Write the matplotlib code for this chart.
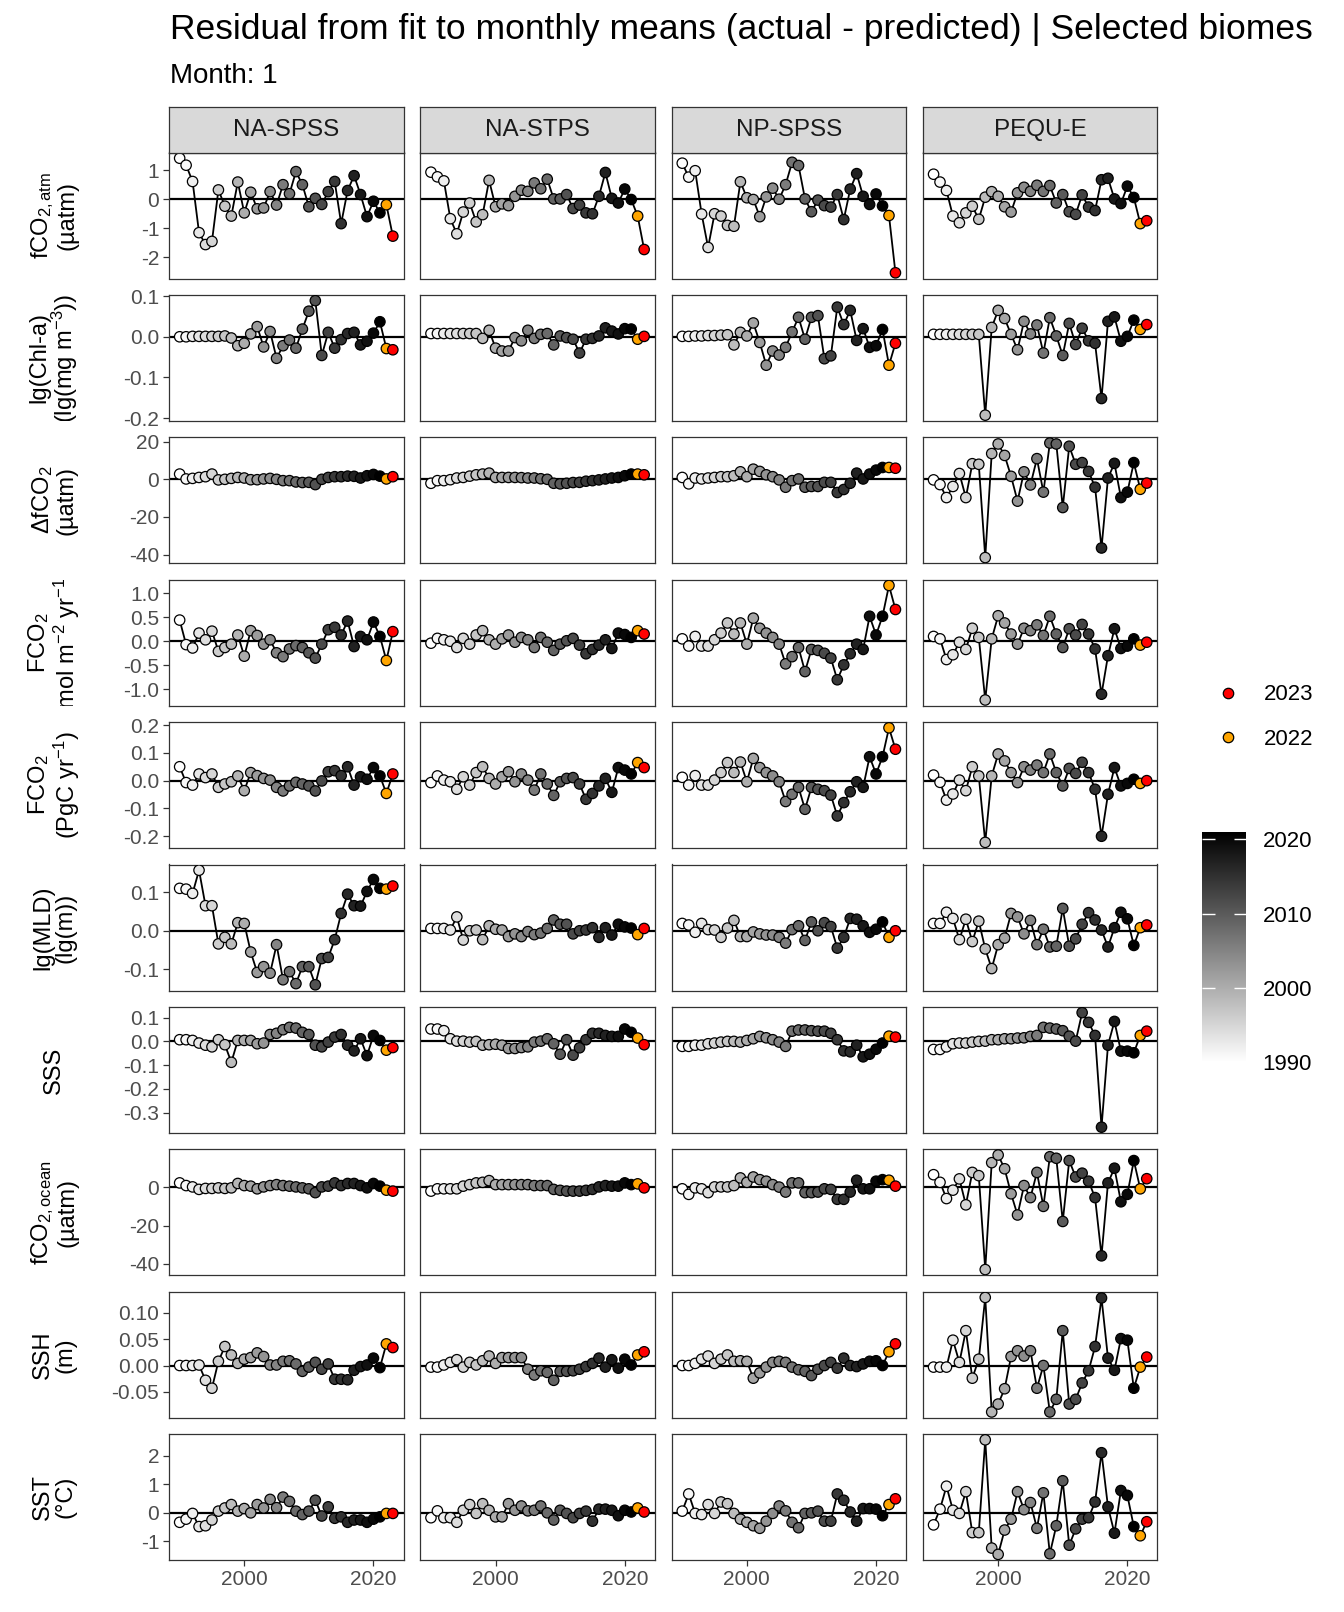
import matplotlib
matplotlib.use("Agg")
import matplotlib.pyplot as plt
from matplotlib.colors import LinearSegmentedColormap, Normalize
from matplotlib.cm import ScalarMappable
from matplotlib.lines import Line2D
from matplotlib.transforms import Bbox, TransformedBbox

plt.rcParams["font.family"] = ["Liberation Sans", "DejaVu Sans"]
plt.rcParams["mathtext.fontset"] = "custom"
plt.rcParams["mathtext.rm"] = "Liberation Sans"
plt.rcParams["mathtext.it"] = "Liberation Sans"
plt.rcParams["mathtext.bf"] = "Liberation Sans:bold"
plt.rcParams["axes.unicode_minus"] = False

years = list(range(1990, 2024))
biomes = ["NA-SPSS", "NA-STPS", "NP-SPSS", "PEQU-E"]

# fCO2,atm
fco2atm_na_spss = [1.41, 1.17, 0.61, -1.15, -1.56, -1.45, 0.32, -0.24, -0.58, 0.59, -0.47, 0.24, -0.33, -0.30, 0.26, -0.20, 0.50, 0.19, 0.95, 0.50, -0.26, 0.03, -0.18, 0.26, 0.61, -0.84, 0.30, 0.81, 0.16, -0.60, -0.07, -0.47, -0.19, -1.27]
fco2atm_na_stps = [0.93, 0.77, 0.63, -0.67, -1.19, -0.44, -0.13, -0.78, -0.53, 0.65, -0.26, -0.16, -0.22, 0.10, 0.31, 0.27, 0.56, 0.36, 0.69, 0.01, 0.01, 0.16, -0.32, -0.20, -0.47, -0.50, 0.10, 0.92, 0.03, -0.13, 0.35, -0.01, -0.58, -1.73]
fco2atm_np_spss = [1.24, 0.76, 0.98, -0.51, -1.66, -0.50, -0.58, -0.90, -0.93, 0.60, 0.05, -0.01, -0.60, 0.08, 0.38, 0.00, 0.50, 1.27, 1.16, 0.01, -0.43, -0.03, -0.22, -0.27, 0.16, -0.70, 0.35, 0.88, 0.10, -0.18, 0.18, -0.23, -0.56, -2.53]
fco2atm_pequ_e = [0.86, 0.59, 0.30, -0.58, -0.81, -0.47, -0.24, -0.69, 0.07, 0.26, 0.10, -0.26, -0.44, 0.22, 0.41, 0.27, 0.48, 0.27, 0.47, -0.13, 0.16, -0.43, -0.52, 0.15, -0.27, -0.39, 0.67, 0.72, 0.01, -0.15, 0.45, 0.06, -0.84, -0.74]

# lg(Chl-a)
chl_na_spss = [0.000, 0.000, 0.001, 0.001, 0.001, 0.001, 0.001, 0.002, -0.003, -0.022, -0.016, 0.007, 0.025, -0.025, 0.013, -0.053, -0.022, -0.008, -0.028, 0.019, 0.063, 0.089, -0.046, 0.011, -0.028, -0.007, 0.008, 0.011, -0.020, -0.011, 0.009, 0.037, -0.029, -0.032]
chl_na_stps = [0.008, 0.008, 0.008, 0.008, 0.008, 0.008, 0.008, 0.008, -0.004, 0.016, -0.028, -0.035, -0.035, -0.002, -0.010, 0.016, -0.004, 0.006, 0.008, -0.020, 0.002, -0.002, -0.006, -0.040, -0.006, -0.004, 0.002, 0.022, 0.014, 0.007, 0.020, 0.019, -0.006, 0.001]
chl_np_spss = [0.001, 0.001, 0.002, 0.002, 0.003, 0.003, 0.004, 0.005, -0.020, 0.011, 0.002, 0.034, -0.014, -0.070, -0.035, -0.045, -0.026, 0.012, 0.048, -0.006, 0.048, 0.052, -0.054, -0.047, 0.073, 0.030, 0.065, -0.009, 0.020, -0.026, -0.022, 0.018, -0.070, -0.016]
chl_pequ_e = [0.006, 0.006, 0.006, 0.006, 0.006, 0.006, 0.006, 0.006, -0.193, 0.023, 0.065, 0.045, 0.006, -0.032, 0.038, 0.007, 0.029, -0.040, 0.047, 0.002, -0.046, 0.033, -0.019, 0.021, -0.010, -0.016, -0.152, 0.038, 0.049, -0.011, 0.001, 0.041, 0.018, 0.030]

# delta fCO2
dfco2_na_spss = [2.8, 0.2, 0.5, 1.0, 1.4, 2.8, -0.3, 0.0, 0.5, 1.0, 0.7, -0.2, -0.2, 0.2, 0.5, 0.0, -0.7, -0.7, -1.4, -1.7, -1.6, -2.8, 0.0, 1.0, 1.4, 1.4, 1.7, 1.6, 0.7, 1.9, 2.6, 1.7, 0.2, 1.4]
dfco2_na_stps = [-2.1, -0.7, -0.7, -0.2, 0.7, 1.0, 1.7, 2.4, 2.8, 3.3, 1.0, 1.0, 1.0, 1.0, 0.9, 0.7, 0.7, 0.3, 0.0, -2.1, -2.4, -2.1, -1.7, -1.6, -1.0, -0.7, -0.3, 0.2, 0.7, 1.0, 1.9, 2.8, 2.8, 2.4]
dfco2_np_spss = [1.0, -2.4, 0.7, 0.2, 0.7, 1.0, 1.4, 1.4, 1.9, 4.0, 1.4, 5.4, 4.2, 2.4, 1.4, -0.3, -4.2, -0.7, 0.2, -4.2, -3.8, -3.8, -1.6, -1.6, -7.0, -5.4, -2.1, 3.3, 0.2, 2.8, 4.9, 6.3, 6.3, 5.9]
dfco2_pequ_e = [-0.3, -2.8, -9.7, -3.8, 3.1, -9.7, 8.3, 8.0, -41.6, 13.7, 18.8, 12.7, 1.6, -11.6, 4.0, -3.0, 11.0, -6.8, 19.3, 18.8, -15.0, 17.6, 8.0, 8.9, 4.2, -4.2, -36.5, 0.7, 8.5, -9.7, -6.8, 8.9, -5.3, -2.0]

# FCO2 (mol m-2 yr-1)
fco2m_na_spss = [0.44, -0.07, -0.14, 0.17, 0.03, 0.21, -0.21, -0.13, -0.06, 0.13, -0.31, 0.22, 0.12, -0.06, 0.03, -0.24, -0.32, -0.16, -0.09, -0.13, -0.24, -0.35, -0.06, 0.24, 0.29, 0.13, 0.42, -0.11, 0.10, 0.03, 0.40, 0.10, -0.40, 0.20]
fco2m_na_stps = [-0.04, 0.06, 0.03, 0.00, -0.13, 0.06, -0.06, 0.13, 0.22, 0.03, -0.06, 0.05, 0.13, -0.02, 0.08, 0.03, -0.13, 0.08, -0.02, -0.19, -0.06, 0.01, 0.06, -0.08, -0.26, -0.17, -0.08, 0.03, -0.15, 0.17, 0.14, 0.08, 0.22, 0.15]
fco2m_np_spss = [0.05, -0.10, 0.10, -0.10, -0.10, 0.03, 0.17, 0.38, 0.15, 0.38, -0.06, 0.48, 0.27, 0.17, 0.08, -0.06, -0.47, -0.32, -0.13, -0.63, -0.17, -0.19, -0.25, -0.35, -0.80, -0.49, -0.26, -0.06, -0.17, 0.52, 0.13, 0.52, 1.16, 0.66]
fco2m_pequ_e = [0.10, 0.05, -0.38, -0.28, -0.02, -0.17, 0.27, 0.08, -1.22, 0.05, 0.53, 0.38, 0.15, -0.06, 0.27, 0.22, 0.34, 0.12, 0.52, 0.15, -0.13, 0.26, 0.13, 0.35, 0.15, -0.16, -1.10, -0.30, 0.26, -0.15, -0.10, 0.05, -0.08, -0.02]

# FCO2 (PgC yr-1)
fco2p_na_spss = [0.050, -0.007, -0.016, 0.024, 0.011, 0.024, -0.024, -0.012, -0.004, 0.017, -0.036, 0.029, 0.018, 0.008, 0.002, -0.024, -0.037, -0.019, -0.006, -0.012, -0.019, -0.037, -0.001, 0.032, 0.036, 0.018, 0.050, -0.016, 0.014, 0.005, 0.047, 0.017, -0.046, 0.024]
fco2p_na_stps = [-0.007, 0.017, 0.002, -0.004, -0.031, 0.014, -0.016, 0.029, 0.050, 0.008, -0.012, 0.014, 0.032, -0.004, 0.024, 0.002, -0.034, 0.024, -0.012, -0.053, -0.004, 0.008, 0.011, -0.012, -0.067, -0.046, -0.019, 0.008, -0.042, 0.047, 0.038, 0.024, 0.065, 0.047]
fco2p_np_spss = [0.012, -0.016, 0.018, -0.016, -0.016, 0.002, 0.029, 0.065, 0.029, 0.067, -0.004, 0.080, 0.047, 0.029, 0.017, -0.004, -0.075, -0.049, -0.024, -0.103, -0.024, -0.031, -0.036, -0.052, -0.127, -0.079, -0.040, -0.004, -0.024, 0.086, 0.024, 0.086, 0.190, 0.113]
fco2p_pequ_e = [0.020, -0.006, -0.070, -0.048, 0.002, -0.036, 0.050, 0.017, -0.222, 0.017, 0.096, 0.071, 0.029, -0.007, 0.050, 0.038, 0.056, 0.029, 0.096, 0.029, -0.019, 0.044, 0.026, 0.066, 0.029, -0.031, -0.200, -0.049, 0.047, -0.019, -0.010, 0.005, -0.010, 0.000]

# lg(MLD)
mld_na_spss = [0.110, 0.108, 0.097, 0.157, 0.065, 0.065, -0.034, -0.017, -0.034, 0.021, 0.019, -0.055, -0.108, -0.093, -0.110, -0.036, -0.127, -0.106, -0.137, -0.093, -0.093, -0.140, -0.072, -0.069, -0.023, 0.045, 0.095, 0.065, 0.064, 0.102, 0.133, 0.110, 0.108, 0.116]
mld_na_stps = [0.006, 0.006, 0.006, 0.002, 0.036, -0.024, 0.000, 0.002, -0.023, 0.013, 0.004, 0.002, -0.015, -0.008, -0.015, -0.002, -0.010, -0.006, 0.006, 0.028, 0.017, 0.017, -0.008, 0.000, 0.002, 0.008, -0.017, 0.008, -0.011, 0.017, 0.010, 0.007, -0.010, 0.006]
mld_np_spss = [0.019, 0.015, -0.004, 0.019, 0.003, 0.002, -0.017, 0.007, 0.027, -0.015, -0.015, -0.003, -0.008, -0.011, -0.011, -0.017, -0.032, 0.003, 0.013, -0.025, 0.023, 0.000, 0.021, 0.011, -0.045, -0.017, 0.032, 0.030, 0.013, -0.004, 0.004, 0.023, -0.017, 0.000]
mld_pequ_e = [0.019, 0.019, 0.048, 0.032, -0.023, 0.030, -0.028, 0.025, -0.047, -0.098, -0.036, -0.019, 0.045, 0.036, -0.008, 0.027, -0.036, 0.004, -0.042, -0.040, 0.058, -0.040, -0.021, 0.017, 0.047, 0.028, 0.002, -0.042, 0.008, 0.048, 0.031, -0.038, 0.008, 0.015]

# SSS
sss_na_spss = [0.007, 0.007, 0.004, -0.007, -0.016, -0.023, 0.007, -0.014, -0.088, 0.004, 0.004, 0.004, -0.010, -0.007, 0.029, 0.034, 0.049, 0.059, 0.056, 0.038, 0.029, -0.016, -0.023, -0.003, 0.018, 0.029, -0.016, -0.040, 0.011, -0.060, 0.025, 0.004, -0.037, -0.026]
sss_na_stps = [0.052, 0.052, 0.045, 0.011, 0.001, 0.001, -0.003, 0.000, -0.016, -0.014, -0.012, -0.016, -0.030, -0.030, -0.026, -0.023, -0.003, 0.001, 0.011, -0.010, -0.054, 0.007, -0.058, -0.027, 0.007, 0.034, 0.034, 0.025, 0.021, 0.021, 0.052, 0.038, 0.014, -0.014]
sss_np_spss = [-0.021, -0.021, -0.016, -0.016, -0.010, -0.007, -0.003, 0.000, 0.000, -0.003, 0.004, 0.011, 0.021, 0.015, 0.007, -0.003, -0.021, 0.043, 0.048, 0.048, 0.045, 0.043, 0.043, 0.034, 0.007, -0.040, -0.044, -0.016, -0.065, -0.054, -0.033, -0.007, 0.022, 0.018]
sss_pequ_e = [-0.034, -0.034, -0.023, -0.010, -0.007, -0.007, -0.003, 0.000, 0.001, 0.007, 0.007, 0.011, 0.011, 0.014, 0.015, 0.021, 0.025, 0.059, 0.056, 0.052, 0.045, 0.022, 0.001, 0.121, 0.080, 0.025, -0.361, -0.016, 0.084, -0.041, -0.041, -0.048, 0.025, 0.043]

# fCO2,ocean
fco2oc_na_spss = [2.4, 1.0, 0.3, -1.0, -0.5, -0.5, -0.2, -0.5, -0.2, 2.1, 1.0, 0.7, -0.7, 0.3, 1.0, 1.5, 1.0, 0.7, 0.3, -0.2, -0.7, -2.7, 0.3, 0.7, 2.4, 1.0, 2.1, 2.1, 1.0, -0.2, 2.1, 0.7, -1.4, -1.9]
fco2oc_na_stps = [-1.9, -0.7, -0.7, -0.7, -0.7, 0.7, 1.5, 2.4, 2.7, 3.6, 1.5, 1.5, 1.5, 1.5, 1.5, 1.5, 1.0, 1.0, 1.0, -1.0, -1.5, -1.9, -1.9, -1.9, -1.5, -1.0, 0.3, 1.0, 0.7, 0.7, 2.4, 1.5, 1.9, -0.2]
fco2oc_np_spss = [-0.7, -3.6, -0.2, -0.7, -2.7, 0.3, 0.3, 0.3, 1.0, 5.0, 2.7, 5.5, 4.1, 3.3, 1.5, 0.2, -2.4, 2.4, 2.4, -2.7, -2.7, -2.4, -0.7, -1.0, -6.2, -6.2, -2.4, 3.8, -0.7, -0.7, 3.3, 4.1, 3.8, 0.7]
fco2oc_pequ_e = [6.7, 2.7, -5.8, -1.4, 4.5, -9.1, 7.9, 6.2, -43.0, 13.0, 17.0, 9.8, -3.3, -14.4, 1.0, -5.3, 7.9, -9.9, 16.1, 15.3, -17.8, 14.1, 5.5, 7.5, 3.3, -5.3, -35.8, 2.4, 10.1, -7.5, -3.6, 14.1, -0.7, 4.6]

# SSH
ssh_na_spss = [0.000, 0.000, 0.000, 0.001, -0.028, -0.043, 0.008, 0.036, 0.020, 0.004, 0.012, 0.015, 0.024, 0.017, 0.001, 0.001, 0.008, 0.009, 0.003, -0.011, -0.003, 0.006, -0.007, 0.003, -0.026, -0.026, -0.027, -0.009, -0.002, 0.001, 0.014, -0.004, 0.041, 0.034]
ssh_na_stps = [-0.003, -0.003, 0.001, 0.006, 0.011, -0.003, 0.006, 0.001, 0.009, 0.018, 0.004, 0.015, 0.015, 0.015, 0.015, -0.007, -0.018, -0.010, -0.013, -0.028, -0.011, -0.011, -0.010, -0.007, -0.002, 0.004, 0.014, -0.003, 0.011, -0.005, 0.012, 0.001, 0.020, 0.026]
ssh_np_spss = [0.000, 0.000, 0.004, 0.012, 0.018, 0.004, 0.012, 0.020, 0.008, 0.009, 0.008, -0.024, -0.014, -0.003, 0.006, 0.008, 0.006, -0.003, -0.008, -0.011, -0.019, -0.007, 0.000, 0.006, -0.005, 0.014, 0.000, -0.002, 0.003, 0.008, 0.009, 0.000, 0.026, 0.041]
ssh_pequ_e = [-0.003, -0.003, -0.003, 0.048, 0.006, 0.066, -0.024, 0.012, 0.129, -0.088, -0.073, -0.044, 0.017, 0.028, 0.018, 0.028, -0.043, 0.000, -0.088, -0.064, 0.066, -0.073, -0.064, -0.033, -0.010, 0.036, 0.128, 0.014, -0.009, 0.051, 0.048, -0.043, -0.003, 0.016]

# SST
sst_na_spss = [-0.33, -0.22, -0.02, -0.48, -0.45, -0.25, 0.06, 0.17, 0.29, 0.06, 0.15, 0.00, 0.29, 0.17, 0.47, 0.18, 0.55, 0.40, 0.06, -0.06, 0.06, 0.44, -0.11, 0.21, -0.19, -0.14, -0.33, -0.25, -0.25, -0.33, -0.22, -0.14, -0.02, -0.02]
sst_na_stps = [-0.17, 0.07, -0.17, -0.17, -0.33, 0.09, 0.29, -0.02, 0.32, 0.09, -0.14, -0.14, 0.32, 0.09, 0.24, 0.07, 0.09, 0.24, 0.00, -0.25, 0.09, -0.02, -0.17, -0.02, 0.06, -0.29, 0.13, 0.13, 0.09, -0.10, 0.09, 0.03, 0.17, 0.03]
sst_np_spss = [0.06, 0.66, -0.02, -0.06, 0.29, -0.02, 0.38, 0.32, -0.02, -0.22, -0.33, -0.45, -0.54, -0.29, -0.02, 0.24, 0.07, -0.33, -0.52, -0.02, 0.00, 0.06, -0.29, -0.29, 0.66, 0.44, 0.03, -0.29, 0.15, 0.15, 0.13, -0.10, 0.29, 0.49]
sst_pequ_e = [-0.42, 0.13, 0.93, 0.09, -0.02, 0.74, -0.69, -0.69, 2.55, -1.23, -1.45, -0.60, -0.22, 0.74, 0.11, 0.36, -0.54, 0.70, -1.43, -0.45, 1.12, -1.13, -0.56, -0.22, -0.17, 0.38, 2.10, 0.21, -0.71, 0.78, 0.61, -0.48, -0.80, -0.31]

row_labels = [
    "fCO$_{2,atm}$\n(µatm)",
    "lg(Chl-a)\n(lg(mg m$^{-3}$))",
    "ΔfCO$_2$\n(µatm)",
    "FCO$_2$\n(mol m$^{-2}$ yr$^{-1}$)",
    "FCO$_2$\n(PgC yr$^{-1}$)",
    "lg(MLD)\n(lg(m))",
    "SSS",
    "fCO$_{2,ocean}$\n(µatm)",
    "SSH\n(m)",
    "SST\n(°C)",
]
row_data = [
    [fco2atm_na_spss, fco2atm_na_stps, fco2atm_np_spss, fco2atm_pequ_e],
    [chl_na_spss, chl_na_stps, chl_np_spss, chl_pequ_e],
    [dfco2_na_spss, dfco2_na_stps, dfco2_np_spss, dfco2_pequ_e],
    [fco2m_na_spss, fco2m_na_stps, fco2m_np_spss, fco2m_pequ_e],
    [fco2p_na_spss, fco2p_na_stps, fco2p_np_spss, fco2p_pequ_e],
    [mld_na_spss, mld_na_stps, mld_np_spss, mld_pequ_e],
    [sss_na_spss, sss_na_stps, sss_np_spss, sss_pequ_e],
    [fco2oc_na_spss, fco2oc_na_stps, fco2oc_np_spss, fco2oc_pequ_e],
    [ssh_na_spss, ssh_na_stps, ssh_np_spss, ssh_pequ_e],
    [sst_na_spss, sst_na_stps, sst_np_spss, sst_pequ_e],
]
row_ticks = [
    [-2, -1, 0, 1],
    [-0.2, -0.1, 0.0, 0.1],
    [-40, -20, 0, 20],
    [-1.0, -0.5, 0.0, 0.5, 1.0],
    [-0.2, -0.1, 0.0, 0.1, 0.2],
    [-0.1, 0.0, 0.1],
    [-0.3, -0.2, -0.1, 0.0, 0.1],
    [-40, -20, 0],
    [-0.05, 0.00, 0.05, 0.10],
    [-1, 0, 1, 2],
]
row_decimals = [0, 1, 0, 1, 1, 1, 1, 0, 2, 0]

# layout in pixels
W, H = 1344, 1612
PANEL_L, COL_STEP, PANEL_W = 169, 251.3, 234.5
PANEL_T, ROW_STEP, PANEL_H = 152.5, 142.4, 126
STRIP_T = 107

TXT = "#4D4D4D"
EDGE = "#333333"

cmap = LinearSegmentedColormap.from_list("yr", ["white", "black"])
norm = Normalize(1990, 2021)


def year_colour(y):
    if y == 2023:
        return "red"
    if y == 2022:
        return "orange"
    return cmap(norm(y))


def px_axes(fig, x, top, w, h):
    return fig.add_axes([x / W, 1 - (top + h) / H, w / W, h / H])


fig = plt.figure(figsize=(W / 100, H / 100), dpi=100)
colours = [year_colour(y) for y in years]

for i, series in enumerate(row_data):
    lo = min(min(s) for s in series)
    hi = max(max(s) for s in series)
    pad = 0.05 * (hi - lo)
    top = PANEL_T + i * ROW_STEP
    for j, vals in enumerate(series):
        ax = px_axes(fig, PANEL_L + j * COL_STEP, top, PANEL_W, PANEL_H)
        ax.axhline(0, color="black", lw=1.6, zorder=1)
        ax.plot(years, vals, color="black", lw=1.3, zorder=2)
        ax.scatter(years, vals, c=colours, edgecolors="black", s=56,
                   linewidths=0.9, zorder=3)
        ax.set_xlim(1988.35, 2024.65)
        ax.set_ylim(lo - pad, hi + pad)
        ax.set_xticks([2000, 2020])
        ax.set_yticks(row_ticks[i])
        ax.set_yticklabels([f"{t:.{row_decimals[i]}f}" for t in row_ticks[i]])
        ax.tick_params(colors=EDGE, labelcolor=TXT, labelsize=15, length=4,
                       width=0.9, pad=3)
        if j > 0:
            ax.tick_params(axis="y", left=False, labelleft=False)
        if i < len(row_data) - 1:
            ax.tick_params(axis="x", bottom=False, labelbottom=False)
        for sp in ax.spines.values():
            sp.set_color(EDGE)
            sp.set_linewidth(0.9)
        if i == 0:
            st = px_axes(fig, PANEL_L + j * COL_STEP, STRIP_T, PANEL_W, PANEL_T - STRIP_T)
            st.set_facecolor("#D9D9D9")
            st.set_xticks([])
            st.set_yticks([])
            for sp in st.spines.values():
                sp.set_color(EDGE)
                sp.set_linewidth(0.9)
            st.text(0.5, 0.5, biomes[j], ha="center", va="center",
                    fontsize=17.5, color="#1A1A1A", transform=st.transAxes)

    # row label, clipped to the panel band like the original
    yc = 1 - (top + PANEL_H / 2) / H
    t = fig.text(54 / W, yc, row_labels[i], rotation=90, ha="center", va="center",
                 multialignment="center", fontsize=17, color="black", linespacing=1.0)
    band = Bbox.from_extents(0, 1 - (top + PANEL_H) / H, 1, 1 - top / H)
    t.set_clip_box(TransformedBbox(band, fig.transFigure))
    t.set_clip_on(True)

fig.text(170 / W, 1 - 30 / H,
         "Residual from fit to monthly means (actual - predicted) | Selected biomes",
         fontsize=25.5, va="center", ha="left")
fig.text(170 / W, 1 - 76 / H, "Month: 1", fontsize=20, va="center", ha="left")

# legend for highlighted years
handles = [
    Line2D([], [], marker="o", ls="", markerfacecolor="red", markeredgecolor="black",
           markersize=7.5, markeredgewidth=0.9, label="2023"),
    Line2D([], [], marker="o", ls="", markerfacecolor="orange", markeredgecolor="black",
           markersize=7.5, markeredgewidth=0.9, label="2022"),
]
fig.legend(handles=handles, loc="center left", bbox_to_anchor=(1206 / W, 1 - 717 / H),
           frameon=False, fontsize=16, handletextpad=1.1, labelspacing=1.05,
           handlelength=1.0, borderpad=0)

# colour bar for years
cax = px_axes(fig, 1202, 832, 44, 230.4)
cb = fig.colorbar(ScalarMappable(norm=norm, cmap=cmap), cax=cax, ticks=[1990, 2000, 2010, 2020])
cb.outline.set_visible(False)
cax.tick_params(axis="y", direction="in", color="white", length=9, width=1,
                left=True, right=True, labelleft=False, labelright=True,
                labelsize=16, labelcolor="black", pad=12)

fig.savefig("out.png", dpi=100)
